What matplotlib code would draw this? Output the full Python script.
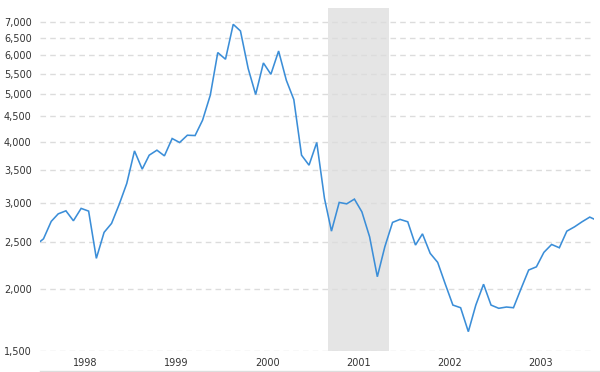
import matplotlib
matplotlib.use("Agg")
import matplotlib.pyplot as plt
import matplotlib.dates as mdates
from matplotlib.ticker import FixedLocator, FuncFormatter, NullLocator
from matplotlib.lines import Line2D
import pandas as pd

# Monthly values, Dec 1997 .. Feb 2004 (mid-month)
start_month = "1997-12-01"
values = [2462, 2535, 2751, 2850, 2891, 2759, 2924, 2887, 2313, 2613, 2725, 2983, 3287,
          3829, 3515, 3753, 3842, 3741, 4058, 3983, 4121, 4115, 4422, 4972, 6073,
          5886, 6933, 6720, 5634, 4988, 5784, 5485, 6118, 5333, 4872, 3753, 3581,
          3983, 3064, 2628, 3007, 2987, 3054, 2877, 2559, 2122, 2442, 2738, 2777,
          2746, 2462, 2595, 2368, 2270, 2047, 1858, 1835, 1640, 1858, 2049, 1858,
          1830, 1841, 1835, 2010, 2190, 2223, 2379, 2469, 2431, 2628, 2682, 2746,
          2807, 2760]
recession = ("2001-03-01", "2001-11-01")
years = [1998, 1999, 2000, 2001, 2002, 2003]
y_ticks = [1500, 2000, 2500, 3000, 3500, 4000, 4500, 5000, 5500, 6000, 6500, 7000]
x_range = ("1998-01-01", "2004-02-01")
y_range = (1500, 7485)

dates = pd.date_range(start_month, periods=len(values), freq="MS") + pd.Timedelta(days=14)

fig = plt.figure(figsize=(6.0, 3.72), dpi=100)
ax = fig.add_axes([40 / 600, 21.3 / 372, 554 / 600, 342.7 / 372])

ax.axvspan(pd.Timestamp(recession[0]), pd.Timestamp(recession[1]),
           color="#e5e5e5", lw=0, zorder=0)
ax.plot(dates, values, color="#3b8ed8", lw=1.15, zorder=3, solid_joinstyle="miter")

ax.set_yscale("log")
ax.set_ylim(*y_range)
ax.set_xlim(pd.Timestamp(x_range[0]), pd.Timestamp(x_range[1]))

ax.yaxis.set_major_locator(FixedLocator(y_ticks))
ax.yaxis.set_minor_locator(NullLocator())
ax.yaxis.set_major_formatter(FuncFormatter(lambda v, p: f"{int(round(v)):,}"))

xt = [mdates.date2num(pd.Timestamp(f"{y}-07-01")) for y in years]
ax.set_xticks(xt)
ax.set_xticklabels([str(y) for y in years])
ax.xaxis.set_minor_locator(NullLocator())

ax.grid(axis="y", color="#dcdcdc", lw=1.0, linestyle=(0, (4, 3)), zorder=1)
ax.set_axisbelow(False)
for g in ax.get_ygridlines():
    g.set_zorder(1)

for s in ax.spines.values():
    s.set_visible(False)
ax.tick_params(axis="both", length=0, labelsize=7, labelcolor="#333333")
ax.tick_params(axis="y", pad=6)
ax.tick_params(axis="x", pad=5)

fig.add_artist(Line2D([40 / 600, 1.0], [1.0 / 372, 1.0 / 372], color="#dddddd", lw=1.0))

fig.savefig("out.png", dpi=100)
